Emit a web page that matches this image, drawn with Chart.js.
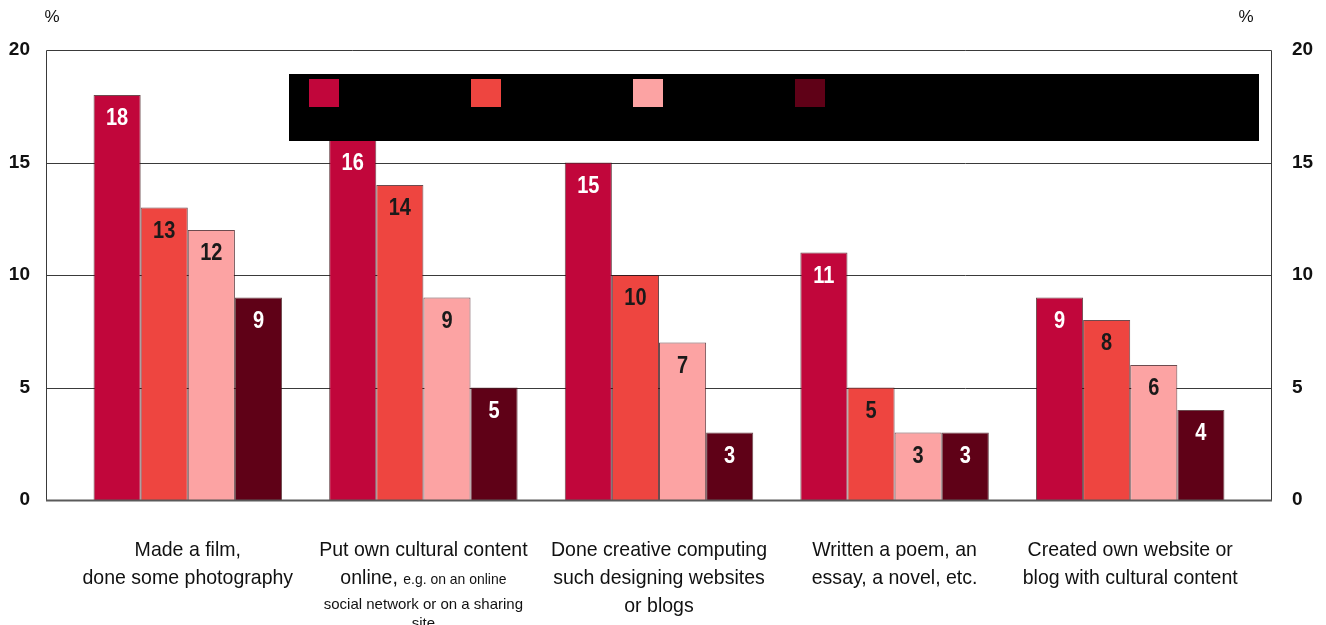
<!DOCTYPE html>
<html>
<head>
<meta charset="utf-8">
<script src="https://cdn.jsdelivr.net/npm/chart.js@4/dist/chart.umd.min.js"></script>
<style>
  html, body { margin: 0; padding: 0; background: #fff; }
  #wrap { width: 1326px; height: 625px; position: relative; }
</style>
</head>
<body>
<div id="wrap"><canvas id="c" width="1326" height="625"></canvas></div>
<script>
// Activities, one group of bars each (main text lines, then a smaller note)
const categories = [
  ['Made a film,', 'done some photography'],
  ['Put own cultural content', 'online,'],
  ['Done creative computing', 'such designing websites', 'or blogs'],
  ['Written a poem, an', 'essay, a novel, etc.'],
  ['Created own website or', 'blog with cultural content']
];
const categoryNotes = [
  [],
  ['e.g. on an online', 'social network or on a sharing', 'site'],
  [],
  [],
  []
];

// Series (age groups)
const seriesNames = ['15-24', '25-39', '40-54', '55+'];
const series1 = [18, 16, 15, 11, 9];
const series2 = [13, 14, 10, 5, 8];
const series3 = [12, 9, 7, 3, 6];
const series4 = [9, 5, 3, 3, 4];

const yTicks = [0, 5, 10, 15, 20];

const colors = ['#C1063B', '#EE4540', '#FCA3A3', '#5F0117'];
const labelColors = ['#ffffff', '#1a1a1a', '#1a1a1a', '#ffffff'];

const SANS = '"Liberation Sans", Arial, sans-serif';

// Plot frame extends past the category band on both sides
const FRAME_PAD = 24;

// Draw text horizontally condensed (narrow face look)
function condensed(ctx, text, x, y, sx) {
  ctx.save();
  ctx.translate(x, y);
  ctx.scale(sx, 1);
  ctx.fillText(text, 0, 0);
  ctx.restore();
}

const framePlugin = {
  id: 'frame',
  beforeDatasetsDraw(chart) {
    const { ctx, chartArea: a, scales } = chart;
    const y = scales.y;
    const L = a.left - FRAME_PAD, R = a.right + FRAME_PAD;
    ctx.save();
    ctx.strokeStyle = '#3a3a3a';
    ctx.lineWidth = 1;
    yTicks.forEach(v => {
      if (v === 0 || v === 20) return;
      const py = Math.round(y.getPixelForValue(v)) + 0.5;
      ctx.beginPath(); ctx.moveTo(L, py); ctx.lineTo(R, py); ctx.stroke();
    });
    // outer box (left, top, right)
    const top = Math.round(y.getPixelForValue(20)) + 0.5;
    const bot = Math.round(y.getPixelForValue(0));
    ctx.beginPath();
    ctx.moveTo(L + 0.5, bot); ctx.lineTo(L + 0.5, top);
    ctx.lineTo(R - 0.5, top); ctx.lineTo(R - 0.5, bot);
    ctx.stroke();
    ctx.restore();
  },
  afterDatasetsDraw(chart) {
    const { ctx, chartArea: a, scales } = chart;
    const y = scales.y;
    const L = a.left - FRAME_PAD, R = a.right + FRAME_PAD;
    const bot = y.getPixelForValue(0);
    ctx.save();
    ctx.strokeStyle = '#5a5a5a';
    ctx.lineWidth = 2;
    ctx.beginPath(); ctx.moveTo(L, bot + 0.5); ctx.lineTo(R, bot + 0.5); ctx.stroke();

    // value labels inside the top of each bar
    ctx.font = 'bold 23px ' + SANS;
    ctx.textAlign = 'center';
    ctx.textBaseline = 'alphabetic';
    chart.data.datasets.forEach((ds, i) => {
      const meta = chart.getDatasetMeta(i);
      meta.data.forEach((bar, j) => {
        ctx.fillStyle = labelColors[i];
        condensed(ctx, String(ds.data[j]), bar.x, bar.y + 30, 0.87);
      });
    });

    // percent unit markers
    ctx.fillStyle = '#111';
    ctx.textBaseline = 'middle';
    ctx.font = '17px ' + SANS;
    ctx.fillText('%', 52, 17);
    ctx.fillText('%', 1246, 17);

    // category labels
    const x = scales.x;
    const mainFont = '21px ' + SANS;
    const noteFont = '15px ' + SANS;
    const SX = 0.93;
    ctx.textBaseline = 'alphabetic';
    categories.forEach((lines, k) => {
      const cx = x.getPixelForValue(k);
      const notes = categoryNotes[k];
      let ly = 556;
      lines.forEach((ln, li) => {
        const last = li === lines.length - 1;
        if (last && notes.length) {
          ctx.font = mainFont;
          const w1 = ctx.measureText(ln + ' ').width * SX;
          ctx.font = noteFont;
          const w2 = ctx.measureText(notes[0]).width * SX;
          const start = cx - (w1 + w2) / 2;
          ctx.textAlign = 'left';
          ctx.font = mainFont;
          condensed(ctx, ln + ' ', start, ly, SX);
          ctx.font = noteFont;
          condensed(ctx, notes[0], start + w1, ly, SX);
          ctx.textAlign = 'center';
        } else {
          ctx.font = mainFont;
          condensed(ctx, ln, cx, ly, SX);
        }
        ly += 28;
      });
      if (notes.length) {
        ly -= 3;
        ctx.font = noteFont;
        notes.slice(1).forEach(n => {
          condensed(ctx, n, cx, ly, 1.0);
          ly += 19;
        });
      }
    });
    ctx.restore();
  },
  afterDraw(chart) {
    // legend panel
    const { ctx } = chart;
    ctx.save();
    ctx.fillStyle = '#000';
    ctx.fillRect(289, 74, 970, 67);
    ctx.font = '17px ' + SANS;
    ctx.textBaseline = 'middle';
    ctx.textAlign = 'left';
    seriesNames.forEach((name, i) => {
      const sx = 309 + i * 162;
      ctx.fillStyle = colors[i];
      ctx.fillRect(sx, 79, 30, 28);
      ctx.fillStyle = '#000';
      ctx.fillText(name, sx + 38, 93);
    });
    ctx.restore();
  }
};

const seriesData = [series1, series2, series3, series4];

new Chart(document.getElementById('c'), {
  type: 'bar',
  data: {
    labels: categories,
    datasets: seriesData.map((d, i) => ({
      label: seriesNames[i],
      data: d,
      backgroundColor: colors[i],
      borderColor: 'rgba(60,15,20,0.75)',
      borderWidth: 1,
      categoryPercentage: 0.8,
      barPercentage: 1.0,
      yAxisID: 'y'
    }))
  },
  options: {
    responsive: false,
    animation: false,
    layout: { padding: { top: 50, left: 0, right: 0, bottom: 0 } },
    plugins: {
      legend: { display: false },
      tooltip: { enabled: false }
    },
    scales: {
      x: {
        grid: { display: false },
        border: { display: false },
        ticks: { display: false },
        afterFit(s) { s.height = 125; }
      },
      y: {
        position: 'left',
        min: 0, max: 20,
        afterBuildTicks(s) { s.ticks = yTicks.map(v => ({ value: v })); },
        grid: { display: false },
        border: { display: false },
        ticks: {
          padding: 32,
          color: '#111',
          font: { family: SANS, size: 19, weight: 'bold', lineHeight: 0.2 }
        },
        afterFit(s) { s.width = 70; }
      },
      y2: {
        position: 'right',
        min: 0, max: 20,
        afterBuildTicks(s) { s.ticks = yTicks.map(v => ({ value: v })); },
        grid: { display: false },
        border: { display: false },
        ticks: {
          padding: 36,
          color: '#111',
          font: { family: SANS, size: 19, weight: 'bold', lineHeight: 0.2 }
        },
        afterFit(s) { s.width = 78; }
      }
    }
  },
  plugins: [framePlugin]
});
</script>
</body>
</html>
